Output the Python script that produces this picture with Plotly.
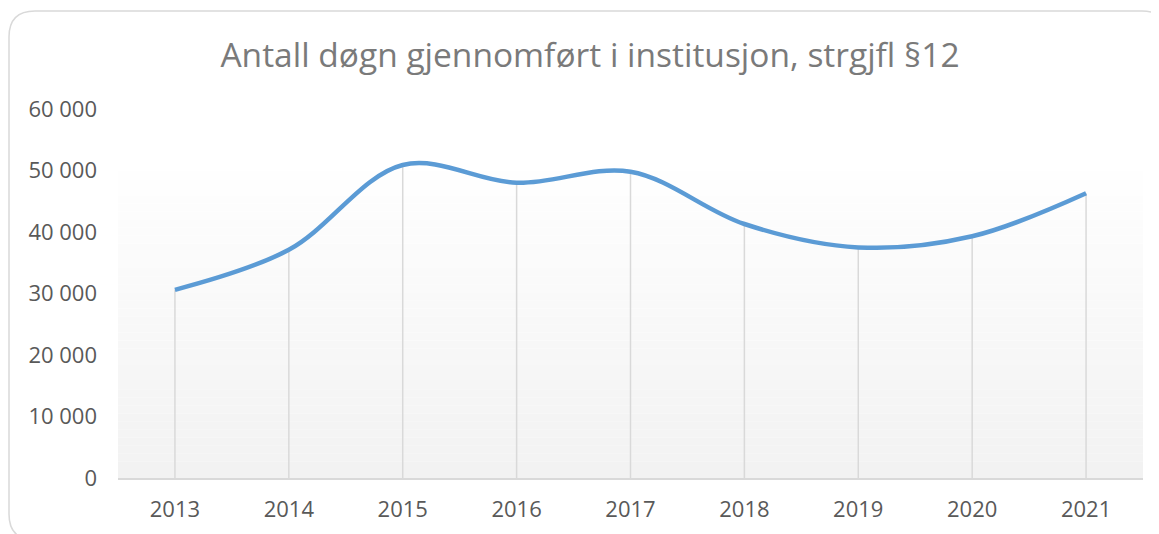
import plotly.graph_objects as go

# Data
years = ["2013", "2014", "2015", "2016", "2017", "2018", "2019", "2020", "2021"]
days = [30600, 37100, 50900, 48000, 49800, 41300, 37500, 39300, 46300]
y_ticks = [0, 10000, 20000, 30000, 40000, 50000, 60000]
y_tick_labels = ["0", "10 000", "20 000", "30 000", "40 000", "50 000", "60 000"]
title_text = "Antall døgn gjennomført i institusjon, strgjfl §12"

OFF = 8  # page body margin offset
SW, SH = 1159, 534
W, H = SW - OFF, SH - OFF
ML, MR, MT, MB = 118 - OFF, 16, 109 - OFF, 56
PW, PH = W - ML - MR, H - MT - MB

# screen px -> paper coords
def px(x):
    return (x - OFF - ML) / PW

def py(y):
    return (H - MB - (y - OFF)) / PH

fig = go.Figure()

# drop lines from each point to the axis
dx, dy = [], []
for c, v in zip(years, days):
    dx += [c, c, None]
    dy += [0, v, None]
fig.add_trace(go.Scatter(x=dx, y=dy, mode="lines",
                         line=dict(color="#d9d9d9", width=1.5),
                         hoverinfo="skip", showlegend=False))

fig.add_trace(go.Scatter(x=years, y=days, mode="lines",
                         line=dict(color="#5b9bd5", width=4.5, shape="spline", smoothing=1.0),
                         showlegend=False))

shapes = []
# gradient background of plot area (white at top -> #f2f2f2 at bottom)
n = 40
top = py(155)
for i in range(n):
    f = (i + 0.5) / n
    c = int(round(255 - (255 - 242) * (1 - f)))
    shapes.append(dict(type="rect", xref="paper", yref="paper",
                       x0=0, x1=1, y0=top * i / n, y1=top * (i + 1) / n,
                       fillcolor=f"rgb({c},{c},{c})", line=dict(width=0), layer="below"))

# outer rounded border
x0, x1, y0, y1, r = 9, 1168, 11, 540, 26
path = (f"M {px(x0+r)},{py(y0)} L {px(x1-r)},{py(y0)} Q {px(x1)},{py(y0)} {px(x1)},{py(y0+r)} "
        f"L {px(x1)},{py(y1-r)} Q {px(x1)},{py(y1)} {px(x1-r)},{py(y1)} "
        f"L {px(x0+r)},{py(y1)} Q {px(x0)},{py(y1)} {px(x0)},{py(y1-r)} "
        f"L {px(x0)},{py(y0+r)} Q {px(x0)},{py(y0)} {px(x0+r)},{py(y0)} Z")
shapes.append(dict(type="path", xref="paper", yref="paper", path=path,
                   line=dict(color="#d9d9d9", width=1.5), fillcolor="rgba(0,0,0,0)", layer="below"))

fig.update_layout(
    width=W, height=H,
    margin=dict(l=ML, r=MR, t=MT, b=MB),
    paper_bgcolor="white", plot_bgcolor="rgba(0,0,0,0)",
    font=dict(family="Open Sans", color="#595959"),
    title=dict(text=title_text, x=px(590), xref="paper", xanchor="center",
               y=1 - (55 - OFF) / H, yanchor="middle",
               font=dict(family="Open Sans", size=33.5, color="#7a7a7a")),
    shapes=shapes,
    xaxis=dict(type="category", categoryorder="array", categoryarray=years,
               range=[-0.5, len(years) - 0.5], showgrid=False, zeroline=False,
               showline=True, linecolor="#d9d9d9", linewidth=1.5,
               ticks="", tickfont=dict(size=22, color="#595959"), ticklabelstandoff=11),
    yaxis=dict(range=[0, 60000], tickvals=y_ticks, ticktext=y_tick_labels,
               showgrid=False, zeroline=False, showline=False, ticks="",
               tickfont=dict(size=22, color="#595959"), ticklabelstandoff=20),
)

fig.write_html("out.html")
